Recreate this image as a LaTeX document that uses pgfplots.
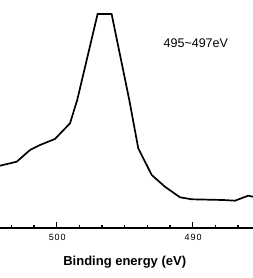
\documentclass[border=0pt]{standalone}
\usepackage{pgfplots}
\pgfplotsset{compat=1.18}
\usepackage{fontspec}
\setmainfont{Liberation Sans}
\newfontfamily\tickfont[LetterSpace=10]{Liberation Sans}
\begin{document}
\begin{tikzpicture}
\useasboundingbox (0,-50.3pt) rectangle (253pt,227.7pt);
\begin{axis}[
  at={(0,0)}, anchor=south west,
  scale only axis, width=253pt, height=213.7pt,
  xmin=485.56, xmax=504.17, ymin=0, ymax=213.7,
  x dir=reverse,
  hide y axis,
  axis x line=bottom,
  axis line style={-, line width=1.9pt},
  xtick={490,500},
  minor xtick={503.333,501.667,498.333,496.667,495,493.333,491.667,488.333,486.667},
  tick align=inside,
  major tick length=6pt, minor tick length=3pt,
  every tick/.style={black, line width=1.3pt},
  /pgf/number format/assume math mode=true,
  xticklabel style={font=\tickfont\fontsize{9}{11}\selectfont, yshift=-3pt, xshift=0.5pt},
  xlabel={\textbf{Binding energy (eV)}},
  xlabel style={at={(rel axis cs:0.493,0)}, anchor=center, yshift=-34pt, font=\fontsize{13}{15}\selectfont},
  clip=false,
]
\addplot[black, line width=1.7pt] coordinates {
(504.17,62) (502.94,66) (501.96,77.7) (501.23,82.7) (500.13,88.7)
(499.02,104.4) (498.49,127.7) (496.99,213.7) (495.96,213.7)
(494.66,127.7) (494.00,79.4) (493.01,52.7) (492.04,41) (490.93,30.4)
(490.07,28.4) (487.75,27.7) (486.89,27) (485.91,32) (485.56,31)
};
\node[font=\fontsize{12.5}{14}\selectfont] at (rel axis cs:0.774,0.863) {495\textasciitilde497eV};
\end{axis}
\end{tikzpicture}
\end{document}
